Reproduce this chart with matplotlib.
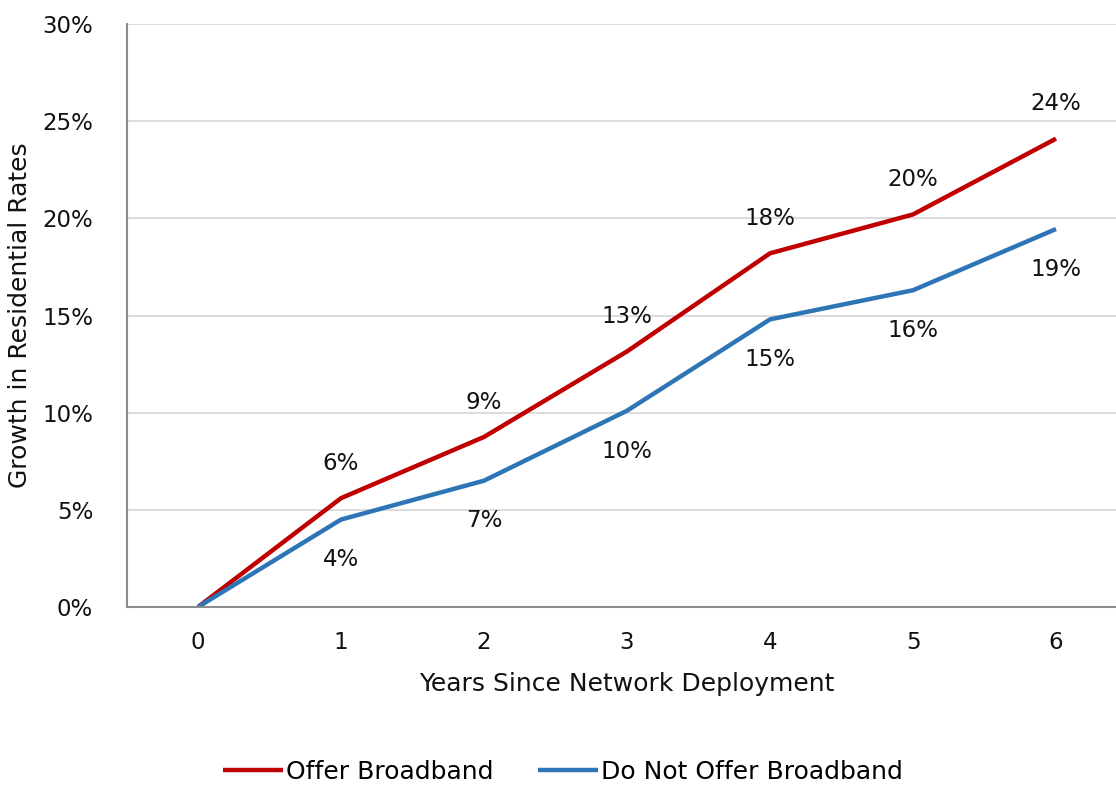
import matplotlib
matplotlib.use("Agg")
import matplotlib.pyplot as plt
from matplotlib.ticker import FuncFormatter

plt.rcParams['font.family'] = ['DejaVu Sans']

years = [0, 1, 2, 3, 4, 5, 6]
offer = [0.0, 5.6, 8.75, 13.15, 18.2, 20.2, 24.1]
no_offer = [0.0, 4.5, 6.5, 10.1, 14.8, 16.3, 19.45]
offer_labels = ["", "6%", "9%", "13%", "18%", "20%", "24%"]
no_offer_labels = ["", "4%", "7%", "10%", "15%", "16%", "19%"]
yticks = [0, 5, 10, 15, 20, 25, 30]

fig = plt.figure(figsize=(11.16, 7.85), dpi=100)
ax = fig.add_axes([126.5/1116, 1-607/785, 1001/1116, 583/785])

red = "#C00000"
blue = "#2E75B6"
FS = 16.5
FL = 18
ax.plot(years, offer, color=red, lw=3.2, label="Offer Broadband", solid_capstyle='butt')
ax.plot(years, no_offer, color=blue, lw=3.2, label="Do Not Offer Broadband", solid_capstyle='butt')

for x, y, t in zip(years, offer, offer_labels):
    if t:
        ax.annotate(t, (x, y), xytext=(0, 25), textcoords='offset points',
                    ha='center', va='center', fontsize=FS, color='#111111')
for x, y, t in zip(years, no_offer, no_offer_labels):
    if t:
        ax.annotate(t, (x, y), xytext=(0, -29), textcoords='offset points',
                    ha='center', va='center', fontsize=FS, color='#111111')

ax.set_xlim(-0.5, 6.5)
ax.set_ylim(0, 30)
ax.set_yticks(yticks)
ax.yaxis.set_major_formatter(FuncFormatter(lambda v, p: f"{v:.0f}%"))
ax.set_xticks(years)
ax.tick_params(axis='both', length=0, labelsize=FS, colors='#111111')
ax.tick_params(axis='x', pad=17)
ax.tick_params(axis='y', pad=24)
ax.grid(axis='y', color='#D9D9D9', lw=1.3)
ax.set_axisbelow(True)
for s in ['top', 'right']:
    ax.spines[s].set_visible(False)
for s in ['left', 'bottom']:
    ax.spines[s].set_color('#8C8C8C')
    ax.spines[s].set_linewidth(1.5)

ax.set_xlabel("Years Since Network Deployment", fontsize=FL, color='#111111', labelpad=13)
ax.set_ylabel("Growth in Residential Rates", fontsize=FL, color='#111111')
ax.yaxis.set_label_coords(-0.094, 0.5)

fig.legend(loc='center', bbox_to_anchor=(563/1116, 1-772/785), ncol=2, frameon=False,
           fontsize=FL, handlelength=2.4, handletextpad=0.1, columnspacing=1.8)

fig.savefig("out.png", dpi=100)
